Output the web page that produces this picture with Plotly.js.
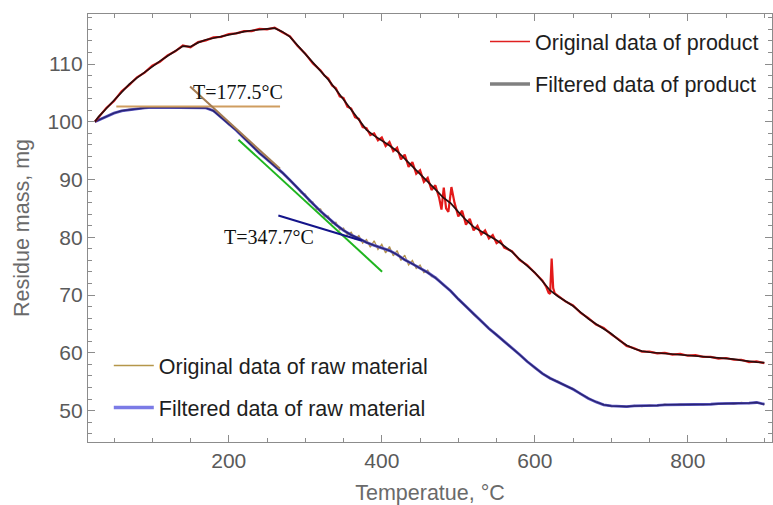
<!DOCTYPE html>
<html>
<head>
<meta charset="utf-8">
<script src="https://cdn.plot.ly/plotly-3.0.1.min.js"></script>
<style>
html,body{margin:0;padding:0;background:#fff;}
#chart{width:773px;height:505px;}
</style>
</head>
<body>
<div id="chart"></div>
<script>
// ---- Data ----
// Filtered curves (common temperature grid, °C)
const tempFiltered = [25,30,40,50,60,70,80,90,100,110,120,130,140,150,160,170,180,190,200,210,220,230,240,250,260,270,280,290,300,310,320,330,340,350,360,370,380,390,400,410,420,430,440,450,460,470,480,490,500,510,520,530,540,550,560,570,580,590,600,610,620,630,640,650,660,670,680,690,700,710,720,730,740,750,760,770,780,790,800,810,820,830,840,850,860,870,880,890,900];
const filteredProduct = [100.0,100.9,102.3,103.7,105.2,106.5,107.6,108.6,109.6,110.5,111.4,112.3,113.1,113.0,113.7,114.2,114.5,114.8,115.1,115.4,115.6,115.8,116.0,116.1,116.2,115.6,114.7,113.2,111.7,110.2,108.8,107.3,105.6,103.8,102.0,100.2,98.6,97.6,96.8,95.9,94.9,93.6,92.3,90.9,89.6,88.3,86.9,85.9,84.4,83.0,81.8,81.0,80.3,79.5,78.5,77.5,76.2,75.1,73.9,72.4,70.8,69.8,69.0,68.1,67.0,65.9,65.0,64.2,63.3,62.2,61.3,60.7,60.3,60.1,60.0,59.9,59.8,59.7,59.6,59.5,59.4,59.2,59.1,59.0,58.9,58.7,58.5,58.4,58.3];
const filteredRaw = [100.0,100.3,101.0,101.5,101.9,102.1,102.3,102.4,102.5,102.5,102.5,102.5,102.5,102.5,102.5,102.4,101.9,100.8,99.6,98.5,97.2,95.9,94.6,93.5,92.4,91.2,89.9,88.5,87.2,85.8,84.5,83.3,82.2,81.2,80.4,79.8,79.1,78.6,78.2,77.7,77.0,76.1,75.4,74.7,73.9,73.0,71.9,70.7,69.3,68.0,66.7,65.4,64.2,63.1,62.0,60.8,59.7,58.5,57.4,56.4,55.6,55.0,54.4,53.7,52.9,52.1,51.5,51.0,50.8,50.7,50.7,50.8,50.8,50.9,50.9,51.0,51.0,51.0,51.1,51.1,51.1,51.1,51.2,51.2,51.2,51.3,51.3,51.4,51.1];

// Original (noisy) product data
const tempOrigProduct = [25,30,40,50,60,70,80,90,100,110,120,130,140,150,160,170,180,190,200,210,220,230,240,250,260,270,280,290,300,310,320,325,330,335,340,345,350,355,360,365,370,375,380,385,390,395,400,405,410,415,420,425,430,435,440,445,450,455,460,465,470,475,478,481,484,487,491,495,500,505,510,515,520,525,530,535,540,545,550,555,560,570,580,590,600,610,615,618,620,622,624,626,630,640,650,660,670,680,690,700,710,720,730,740,750,760,770,780,790,800,810,820,830,840,850,860,870,880,890,900];
const origProduct = [100.0,100.8,102.4,103.6,105.3,106.4,107.7,108.5,109.7,110.4,111.5,112.2,113.2,112.9,113.8,114.1,114.6,114.7,115.2,115.3,115.7,115.7,116.1,116.0,116.3,115.5,114.8,113.1,111.8,110.1,108.9,108.0,107.5,106.3,105.8,104.4,104.1,102.6,102.3,100.8,100.5,99.1,98.9,97.7,98.0,96.8,97.3,95.8,96.5,94.9,95.5,93.5,94.3,92.2,93.0,91.0,91.6,89.6,90.3,88.2,89.0,86.8,84.8,88.6,85.0,84.4,88.7,86.0,83.6,84.6,82.2,83.2,81.2,82.0,80.5,81.2,79.8,80.4,79.0,79.4,78.2,77.6,76.1,75.2,73.8,72.5,71.4,70.4,70.2,76.3,71.2,70.3,69.9,68.9,68.2,66.9,66.0,64.9,64.3,63.2,62.3,61.2,60.8,60.2,60.2,59.9,60.0,59.7,59.8,59.5,59.6,59.3,59.3,59.0,59.1,58.8,58.8,58.4,58.5,58.2];

// Original (noisy) raw material data
const tempOrigRaw = [25,30,40,50,60,70,80,90,100,110,120,130,140,150,160,170,180,190,200,210,220,230,240,250,260,270,280,290,295,300,305,310,315,320,325,330,335,340,345,350,355,360,365,370,375,380,385,390,395,400,405,410,415,420,425,430,435,440,445,450,455,460,465,470,480,490,500,510,520,530,540,550,560,570,580,590,600,610,620,630,640,650,660,670,680,690,700,710,720,730,740,750,760,770,780,790,800,810,820,830,840,850,860,870,880,890,900];
const origRaw = [100.0,100.4,100.9,101.6,101.8,102.2,102.2,102.5,102.4,102.6,102.4,102.6,102.4,102.6,102.4,102.5,101.8,100.9,99.5,98.6,97.1,96.0,94.5,93.6,92.3,91.3,89.8,88.6,87.6,87.5,86.2,86.1,84.8,84.9,83.5,83.7,82.4,82.6,81.3,81.6,80.4,80.9,79.7,80.3,79.0,79.6,78.3,79.4,77.9,78.8,77.3,78.4,76.8,77.7,76.0,76.9,75.2,76.0,74.6,75.2,73.9,74.3,73.2,73.2,71.8,70.8,69.2,68.1,66.6,65.5,64.1,63.2,61.9,60.9,59.6,58.6,57.3,56.5,55.5,55.1,54.3,53.8,52.8,52.2,51.4,51.1,50.7,50.8,50.6,50.9,50.7,51.0,50.8,51.1,50.9,51.1,51.0,51.2,51.0,51.2,51.1,51.3,51.1,51.4,51.2,51.5,51.0];

// Tangent lines used for onset temperatures
const tangentFlatX = [53, 267];
const tangentFlatY = [102.65, 102.65];
const tangentFirstX = [149.4, 267];
const tangentFirstY = [106.1, 91.85];
const tangentSecondX = [212.6, 400.4];
const tangentSecondY = [96.9, 74.05];
const tangentThirdX = [264.8, 373.9];
const tangentThirdY = [83.76, 79.4];

const onsetLabels = ['T=177.5°C', 'T=347.7°C'];
const legendNames = ['Original data of product', 'Filtered data of product', 'Original data of raw material', 'Filtered data of raw material'];
const xTitle = 'Temperatue, °C';
const yTitle = 'Residue mass, mg';

// ---- Traces ----
const traces = [
  {x: tempOrigRaw, y: origRaw, mode: 'lines', line: {color: '#b3924c', width: 1.3}, showlegend: false, hoverinfo: 'skip'},
  {x: tempFiltered, y: filteredRaw, mode: 'lines', line: {color: '#5a56c4', width: 2.8}, showlegend: false, hoverinfo: 'skip'},
  {x: tempFiltered, y: filteredRaw, mode: 'lines', line: {color: '#2a2472', width: 1.5}, showlegend: false, hoverinfo: 'skip'},
  {x: tangentFlatX, y: tangentFlatY, mode: 'lines', line: {color: '#cf9d60', width: 2}, showlegend: false, hoverinfo: 'skip'},
  {x: tangentFirstX, y: tangentFirstY, mode: 'lines', line: {color: '#a47c52', width: 2}, showlegend: false, hoverinfo: 'skip'},
  {x: tangentSecondX, y: tangentSecondY, mode: 'lines', line: {color: '#1fb51f', width: 2}, showlegend: false, hoverinfo: 'skip'},
  {x: tangentThirdX, y: tangentThirdY, mode: 'lines', line: {color: '#14148a', width: 2}, showlegend: false, hoverinfo: 'skip'},
  {x: tempOrigProduct, y: origProduct, mode: 'lines', line: {color: '#e31a1a', width: 2.2}, showlegend: false, hoverinfo: 'skip'},
  {x: tempFiltered, y: filteredProduct, mode: 'lines', line: {color: '#2a0d0d', width: 1.7}, showlegend: false, hoverinfo: 'skip'},
  // legend entries
  {x: [null], y: [null], mode: 'lines', name: legendNames[0], line: {color: '#e02020', width: 1.5}, legend: 'legend', legendgroup: 'a'},
  {x: [null], y: [null], mode: 'lines', name: legendNames[1], line: {color: '#808080', width: 3.5}, legend: 'legend', legendgroup: 'b'},
  {x: [null], y: [null], mode: 'lines', name: legendNames[2], line: {color: '#b5964a', width: 1.5}, legend: 'legend2', legendgroup: 'c'},
  {x: [null], y: [null], mode: 'lines', name: legendNames[3], line: {color: '#7b7be6', width: 3.5}, legend: 'legend2', legendgroup: 'd'}
];

const tickFont = {family: 'Liberation Sans, Arial, sans-serif', size: 21, color: '#5a5a5a'};
const titleFont = {family: 'Liberation Sans, Arial, sans-serif', size: 21.5, color: '#6a6a6a'};
const legendFont = {family: 'Liberation Sans, Arial, sans-serif', size: 21.5, color: '#1e1e1e'};

const layout = {
  width: 773, height: 505,
  margin: {l: 88, r: 1, t: 14, b: 63, pad: 0},
  paper_bgcolor: '#ffffff', plot_bgcolor: '#ffffff',
  showlegend: true,
  xaxis: {
    range: [16, 910], showgrid: false, zeroline: false,
    showline: true, linecolor: '#8c8c8c', linewidth: 1.2, mirror: 'ticks',
    ticks: 'inside', ticklen: 7, tickwidth: 1, tickcolor: '#8c8c8c',
    tick0: 0, dtick: 200, tickfont: tickFont,
    minor: {dtick: 50, ticks: 'inside', ticklen: 4, tickcolor: '#8c8c8c', tickwidth: 1},
    title: {text: xTitle, font: titleFont, standoff: 19}
  },
  yaxis: {
    range: [44.56, 118.66], showgrid: false, zeroline: false,
    showline: true, linecolor: '#8c8c8c', linewidth: 1.2, mirror: 'ticks',
    ticks: 'inside', ticklen: 7, tickwidth: 1, tickcolor: '#8c8c8c',
    tick0: 0, dtick: 10, tickfont: tickFont,
    minor: {dtick: 2, ticks: 'inside', ticklen: 4, tickcolor: '#8c8c8c', tickwidth: 1},
    title: {text: yTitle, font: titleFont, standoff: 12}
  },
  legend: {
    x: 0.5804, xanchor: 'left', y: 0.9836, yanchor: 'top',
    bgcolor: 'rgba(0,0,0,0)', font: legendFont, tracegroupgap: 11.5, itemwidth: 40
  },
  legend2: {
    x: 0.0304, xanchor: 'left', y: 0.0327, yanchor: 'bottom',
    bgcolor: 'rgba(0,0,0,0)', font: legendFont, tracegroupgap: 11, itemwidth: 40
  },
  annotations: [
    {x: 211.5, y: 105.15, xref: 'x', yref: 'y', text: onsetLabels[0], showarrow: false,
     font: {family: 'Liberation Serif, Times New Roman, serif', size: 20, color: '#111'}},
    {x: 252.7, y: 80.08, xref: 'x', yref: 'y', text: onsetLabels[1], showarrow: false,
     font: {family: 'Liberation Serif, Times New Roman, serif', size: 20, color: '#111'}}
  ]
};

Plotly.newPlot('chart', traces, layout, {displayModeBar: false, staticPlot: true});
</script>
</body>
</html>
